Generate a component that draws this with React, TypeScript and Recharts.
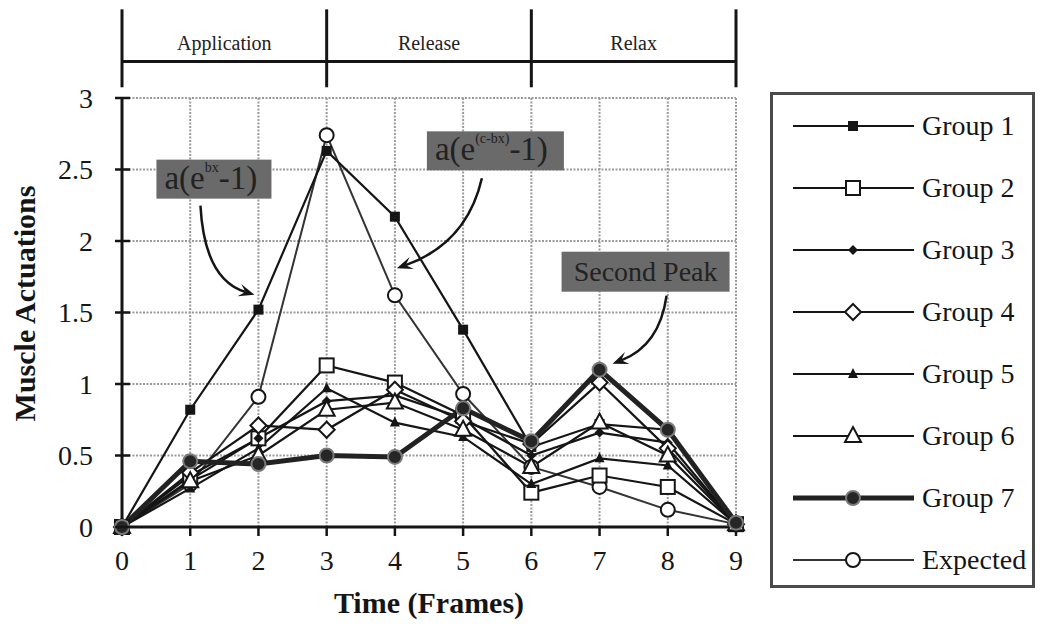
import {
  CartesianGrid,
  Legend,
  Line,
  LineChart,
  ReferenceDot,
  ReferenceLine,
  XAxis,
  YAxis,
} from "recharts";

const FONT = '"Liberation Serif", "Times New Roman", serif';
const INK = "#151515";

const FRAMES = [0, 1, 2, 3, 4, 5, 6, 7, 8, 9];
const Y_TICKS = [0, 0.5, 1, 1.5, 2, 2.5, 3];

const GROUP_1 = [0, 0.82, 1.52, 2.63, 2.17, 1.38, 0.56, 0.72, 0.68, 0.02];
const GROUP_2 = [0, 0.33, 0.62, 1.13, 1.01, 0.78, 0.24, 0.36, 0.28, 0.02];
const GROUP_3 = [0, 0.36, 0.62, 0.88, 0.92, 0.76, 0.5, 0.66, 0.59, 0.02];
const GROUP_4 = [0, 0.38, 0.71, 0.68, 0.96, 0.74, 0.58, 1.01, 0.55, 0.02];
const GROUP_5 = [0, 0.27, 0.55, 0.97, 0.73, 0.63, 0.3, 0.48, 0.43, 0.02];
const GROUP_6 = [0, 0.32, 0.5, 0.82, 0.87, 0.68, 0.42, 0.73, 0.5, 0.02];
const GROUP_7 = [0, 0.46, 0.44, 0.5, 0.49, 0.83, 0.6, 1.1, 0.68, 0.03];
const EXPECTED = [0, 0.3, 0.91, 2.74, 1.62, 0.93, 0.42, 0.28, 0.12, 0.02];

const PHASES = ["Application", "Release", "Relax"];
const PHASE_BOUNDS = [0, 3, 6, 9];

// phase bar sits above the plot, placed in y-units of the value axis
const PHASE_BAR_Y = 3.255;
const PHASE_TICK_LOW = 3.075;
const PHASE_TICK_HIGH = 3.62;

type MarkerKind =
  | "filledSquare"
  | "openSquare"
  | "smallDiamond"
  | "openDiamond"
  | "smallTriangle"
  | "openTriangle"
  | "darkCircle"
  | "openCircle";

type Series = {
  key: string;
  name: string;
  values: number[];
  marker: MarkerKind;
  width: number;
  stroke: string;
};

const SERIES: Series[] = [
  { key: "g1", name: "Group 1", values: GROUP_1, marker: "filledSquare", width: 2.2, stroke: INK },
  { key: "g2", name: "Group 2", values: GROUP_2, marker: "openSquare", width: 2.2, stroke: INK },
  { key: "g3", name: "Group 3", values: GROUP_3, marker: "smallDiamond", width: 2.2, stroke: INK },
  { key: "g4", name: "Group 4", values: GROUP_4, marker: "openDiamond", width: 2.2, stroke: INK },
  { key: "g5", name: "Group 5", values: GROUP_5, marker: "smallTriangle", width: 2.2, stroke: INK },
  { key: "g6", name: "Group 6", values: GROUP_6, marker: "openTriangle", width: 2.2, stroke: INK },
  { key: "g7", name: "Group 7", values: GROUP_7, marker: "darkCircle", width: 5, stroke: "#222" },
  { key: "exp", name: "Expected", values: EXPECTED, marker: "openCircle", width: 2, stroke: "#333" },
];

// draw order: expected at the back so hidden markers stay hidden
const DRAW_ORDER = ["exp", "g1", "g2", "g3", "g4", "g5", "g6", "g7"];

const chartData = FRAMES.map((frame, i) => {
  const row: Record<string, number> = { frame };
  SERIES.forEach((s) => {
    row[s.key] = s.values[i];
  });
  return row;
});

function Marker({ kind, cx, cy }: { kind: MarkerKind; cx: number; cy: number }) {
  switch (kind) {
    case "filledSquare":
      return <rect x={cx - 5} y={cy - 5} width={10} height={10} fill={INK} />;
    case "openSquare":
      return (
        <rect x={cx - 7} y={cy - 7} width={14} height={14} fill="#fff" stroke={INK} strokeWidth={2} />
      );
    case "smallDiamond":
      return <path d={`M${cx},${cy - 5}L${cx + 5},${cy}L${cx},${cy + 5}L${cx - 5},${cy}Z`} fill={INK} />;
    case "openDiamond":
      return (
        <path
          d={`M${cx},${cy - 8}L${cx + 8},${cy}L${cx},${cy + 8}L${cx - 8},${cy}Z`}
          fill="#fff"
          stroke={INK}
          strokeWidth={2}
        />
      );
    case "smallTriangle":
      return <path d={`M${cx},${cy - 6}L${cx + 5},${cy + 4}L${cx - 5},${cy + 4}Z`} fill={INK} />;
    case "openTriangle":
      return (
        <path
          d={`M${cx},${cy - 9}L${cx + 8},${cy + 6}L${cx - 8},${cy + 6}Z`}
          fill="#fff"
          stroke={INK}
          strokeWidth={2}
        />
      );
    case "darkCircle":
      return <circle cx={cx} cy={cy} r={7} fill="#262626" stroke="#7a7a7a" strokeWidth={2} />;
    default:
      return <circle cx={cx} cy={cy} r={7} fill="#fff" stroke={INK} strokeWidth={2} />;
  }
}

function YTick(props: any) {
  const { x, y, payload } = props;
  const axisX = x + 29;
  return (
    <g>
      <line x1={axisX - 7} x2={axisX + 8} y1={y} y2={y} stroke={INK} strokeWidth={2.5} />
      <text x={x} y={y} dy="0.35em" textAnchor="end" fontFamily={FONT} fontSize={28} fill={INK}>
        {payload.value}
      </text>
    </g>
  );
}

function LegendBox() {
  return (
    <div
      style={{
        width: 265,
        height: 496,
        boxSizing: "border-box",
        border: "3px solid #4a4a4a",
        background: "#fff",
      }}
    >
      {SERIES.map((s) => (
        <div key={s.key} style={{ height: 62, display: "flex", alignItems: "center" }}>
          <svg width={149} height={30} style={{ flex: "none" }}>
            <line x1={20} x2={141} y1={15} y2={15} stroke={s.stroke} strokeWidth={s.width} />
            <Marker kind={s.marker} cx={80} cy={15} />
          </svg>
          <span style={{ fontFamily: FONT, fontSize: 28, color: INK, lineHeight: 1 }}>{s.name}</span>
        </div>
      ))}
    </div>
  );
}

type Callout = {
  x: number;
  y: number;
  box: [number, number, number, number];
  tail: [number, number];
  ctrl: [number, number];
  tip: [number, number];
  label: "grow" | "decay" | "peak";
};

const CALLOUTS: Callout[] = [
  { x: 2, y: GROUP_1[2], box: [-102, -150, 115, 39], tail: [-58, -104], ctrl: [-54, -30], tip: [-4, -15], label: "grow" },
  { x: 4, y: EXPECTED[4], box: [32, -164, 137, 39], tail: [87, -117], ctrl: [72, -52], tip: [2, -27], label: "decay" },
  { x: 7, y: GROUP_7[7], box: [-38, -118, 168, 40], tail: [67, -74], ctrl: [60, -24], tip: [13, -6], label: "peak" },
];

function calloutText(label: Callout["label"], x: number, y: number, w: number) {
  const common = { fontFamily: FONT, fill: "#222" };
  if (label === "peak") {
    return (
      <text x={x + w / 2} y={y + 29} textAnchor="middle" fontSize={28} {...common}>
        Second Peak
      </text>
    );
  }
  const sup = label === "grow" ? "bx" : "(c-bx)";
  return (
    <text x={x + 8} y={y + 29} fontSize={33} {...common}>
      a(e
      <tspan fontSize={14} dy={-17}>
        {sup}
      </tspan>
      <tspan dy={17}>-1)</tspan>
    </text>
  );
}

function calloutShape(c: Callout) {
  return (props: any) => {
    const { cx, cy } = props;
    const [bx, by, bw, bh] = c.box;
    const x0 = cx + c.tail[0];
    const y0 = cy + c.tail[1];
    const qx = cx + c.ctrl[0];
    const qy = cy + c.ctrl[1];
    const tx = cx + c.tip[0];
    const ty = cy + c.tip[1];
    const len = Math.hypot(tx - qx, ty - qy) || 1;
    const ux = (tx - qx) / len;
    const uy = (ty - qy) / len;
    const head = 17;
    const ang = (22 * Math.PI) / 180;
    const rot = (a: number): [number, number] => [
      tx - head * (ux * Math.cos(a) - uy * Math.sin(a)),
      ty - head * (ux * Math.sin(a) + uy * Math.cos(a)),
    ];
    const [ax, ay] = rot(ang);
    const [cx2, cy2] = rot(-ang);
    const nx = tx - head * 0.55 * ux;
    const ny = ty - head * 0.55 * uy;
    return (
      <g>
        <rect x={cx + bx} y={cy + by} width={bw} height={bh} fill="#6a6a6a" />
        {calloutText(c.label, cx + bx, cy + by, bw)}
        <path d={`M${x0},${y0}Q${qx},${qy} ${nx},${ny}`} fill="none" stroke={INK} strokeWidth={2.5} />
        <path d={`M${tx},${ty}L${ax},${ay}L${nx},${ny}L${cx2},${cy2}Z`} fill={INK} />
      </g>
    );
  };
}

export default function App() {
  const ordered = DRAW_ORDER.map((k) => SERIES.find((s) => s.key === k) as Series);
  return (
    <div style={{ position: "absolute", left: 0, top: 0, width: 1041, height: 625, background: "#fff" }}>
      <LineChart
        width={1041}
        height={625}
        data={chartData}
        margin={{ top: 98, right: 305, left: 0, bottom: 0 }}
      >
        <CartesianGrid stroke="#9a9a9a" strokeWidth={2} strokeDasharray="2 1.5" />
        <XAxis
          dataKey="frame"
          type="number"
          domain={[0, 9]}
          ticks={FRAMES}
          interval={0}
          height={98}
          tickSize={9}
          tickMargin={14}
          axisLine={{ stroke: INK, strokeWidth: 3 }}
          tickLine={{ stroke: INK, strokeWidth: 2.5 }}
          tick={{ fontFamily: FONT, fontSize: 28, fill: INK }}
          label={{
            value: "Time (Frames)",
            position: "insideBottom",
            offset: 12,
            fontFamily: FONT,
            fontSize: 30,
            fontWeight: "bold",
            fill: INK,
          }}
        />
        <YAxis
          type="number"
          domain={[0, 3]}
          ticks={Y_TICKS}
          interval={0}
          width={122}
          tickSize={7}
          tickMargin={22}
          axisLine={{ stroke: INK, strokeWidth: 3 }}
          tickLine={false}
          tick={<YTick />}
          label={{
            content: (p: any) => {
              const vb = p.viewBox;
              const lx = vb.x + 24;
              const ly = vb.y + vb.height / 2 - 9;
              return (
                <text
                  x={lx}
                  y={ly}
                  transform={`rotate(-90, ${lx}, ${ly})`}
                  textAnchor="middle"
                  dominantBaseline="central"
                  fontFamily={FONT}
                  fontSize={30}
                  fontWeight="bold"
                  fill={INK}
                >
                  Muscle Actuations
                </text>
              );
            },
          }}
        />
        <Legend
          layout="vertical"
          align="center"
          verticalAlign="middle"
          content={<LegendBox />}
          wrapperStyle={{ left: 770, top: 92, width: 265, height: 496 }}
        />
        {PHASE_BOUNDS.map((b) => (
          <ReferenceLine
            key={`pb-${b}`}
            ifOverflow="visible"
            segment={[
              { x: b, y: PHASE_TICK_LOW },
              { x: b, y: PHASE_TICK_HIGH },
            ]}
            stroke={INK}
            strokeWidth={3}
          />
        ))}
        {PHASES.map((name, i) => (
          <ReferenceLine
            key={`ph-${name}`}
            ifOverflow="visible"
            segment={[
              { x: PHASE_BOUNDS[i], y: PHASE_BAR_Y },
              { x: PHASE_BOUNDS[i + 1], y: PHASE_BAR_Y },
            ]}
            stroke={INK}
            strokeWidth={3}
            label={{ value: name, position: "top", offset: 12, fontFamily: FONT, fontSize: 20, fill: "#222" }}
          />
        ))}
        {ordered.map((s) => (
          <Line
            key={s.key}
            type="linear"
            dataKey={s.key}
            name={s.name}
            stroke={s.stroke}
            strokeWidth={s.width}
            isAnimationActive={false}
            dot={(p: any) => <Marker key={`${s.key}-${p.index}`} kind={s.marker} cx={p.cx} cy={p.cy} />}
            activeDot={false}
          />
        ))}
        {CALLOUTS.map((c) => (
          <ReferenceDot key={c.label} x={c.x} y={c.y} r={0} shape={calloutShape(c)} />
        ))}
      </LineChart>
    </div>
  );
}
